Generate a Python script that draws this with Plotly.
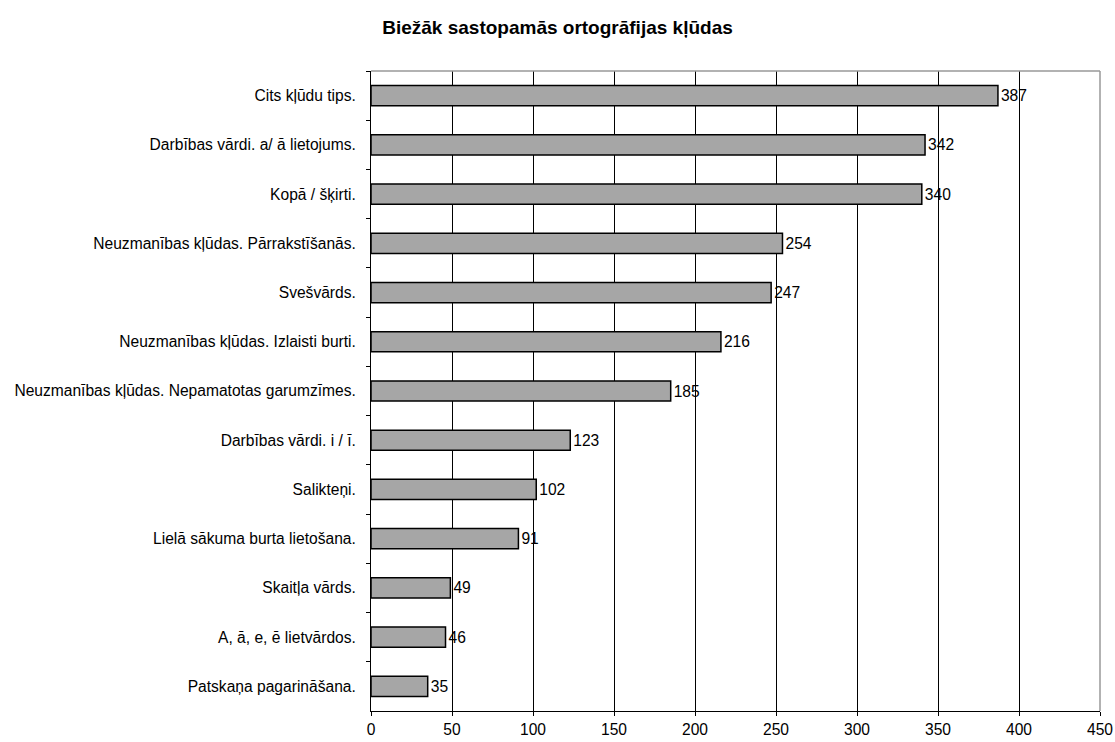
import plotly.graph_objects as go

# kategorijas no augšas uz leju
categories = [
    "Cits kļūdu tips.",
    "Darbības vārdi. a/ ā lietojums.",
    "Kopā / šķirti.",
    "Neuzmanības kļūdas. Pārrakstīšanās.",
    "Svešvārds.",
    "Neuzmanības kļūdas. Izlaisti burti.",
    "Neuzmanības kļūdas. Nepamatotas garumzīmes.",
    "Darbības vārdi. i / ī.",
    "Salikteņi.",
    "Lielā sākuma burta lietošana.",
    "Skaitļa vārds.",
    "A, ā, e, ē lietvārdos.",
    "Patskaņa pagarināšana.",
]
counts = [387, 342, 340, 254, 247, 216, 185, 123, 102, 91, 49, 46, 35]
x_ticks = [0, 50, 100, 150, 200, 250, 300, 350, 400, 450]

font = "Liberation Sans, Arial, sans-serif"
fsize = 15.6

fig = go.Figure(go.Bar(
    x=counts,
    y=categories,
    orientation="h",
    marker=dict(color="#a6a6a6", line=dict(color="black", width=1.5)),
    text=[str(v) for v in counts],
    textposition="outside",
    textfont=dict(family=font, size=fsize, color="black"),
    cliponaxis=False,
))

fig.update_layout(
    width=1115, height=742,
    margin=dict(l=371, r=15, t=71, b=31),
    paper_bgcolor="white", plot_bgcolor="white",
    bargap=0.59,
    showlegend=False,
    font=dict(family=font, size=fsize, color="black"),
    title=dict(
        text="<b>Biežāk sastopamās ortogrāfijas kļūdas</b>",
        x=0.5, xanchor="center", y=0.963, yanchor="middle",
        font=dict(family=font, size=19, color="black"),
    ),
)

fig.update_xaxes(
    range=[0, 450], tickvals=x_ticks,
    showgrid=True, gridcolor="black", gridwidth=1,
    showline=True, linecolor="black", linewidth=1,
    ticks="outside", ticklen=4, tickcolor="black",
    tickfont=dict(family=font, size=fsize, color="black"),
    zeroline=False, automargin=False,
)
fig.update_yaxes(
    categoryorder="array", categoryarray=categories, autorange="reversed",
    showgrid=False,
    showline=True, linecolor="black", linewidth=1,
    ticks="outside", ticklen=4, tickcolor="black", tickson="boundaries",
    ticklabelstandoff=11,
    tickfont=dict(family=font, size=fsize, color="black"),
    automargin=False,
)

# pelēkā plot area mala augšā un labajā pusē
fig.add_shape(type="line", xref="paper", yref="paper", x0=0, x1=1, y0=1, y1=1,
              line=dict(color="#999999", width=1.5))
fig.add_shape(type="line", xref="paper", yref="paper", x0=1, x1=1, y0=0, y1=1,
              line=dict(color="#999999", width=1.5))

# noņemt lapas noklusēto body margin
fig.write_html("out.html", config={"displayModeBar": False},
               post_script="document.body.style.margin='0';")
